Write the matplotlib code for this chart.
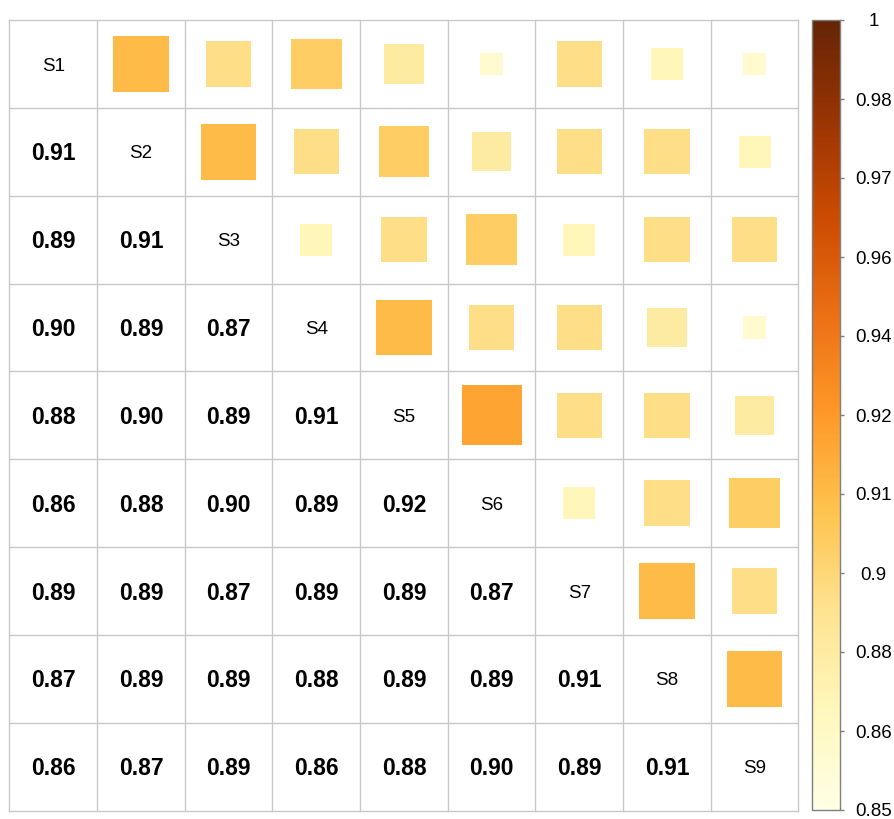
import numpy as np
import matplotlib
matplotlib.use('Agg')
import matplotlib.pyplot as plt
from matplotlib.patches import Rectangle
from matplotlib.colors import Normalize
from matplotlib.cm import ScalarMappable

plt.rcParams['font.family'] = ['Liberation Sans', 'DejaVu Sans']

# Similarity matrix (lower triangle, row i holds values vs S1..S(i-1))
labels = ['S1', 'S2', 'S3', 'S4', 'S5', 'S6', 'S7', 'S8', 'S9']
lower = [
    [],
    [0.91],
    [0.89, 0.91],
    [0.90, 0.89, 0.87],
    [0.88, 0.90, 0.89, 0.91],
    [0.86, 0.88, 0.90, 0.89, 0.92],
    [0.89, 0.89, 0.87, 0.89, 0.89, 0.87],
    [0.87, 0.89, 0.89, 0.88, 0.89, 0.89, 0.91],
    [0.86, 0.87, 0.89, 0.86, 0.88, 0.90, 0.89, 0.91],
]
col_lim = (0.85, 1.0)
cbar_ticks = np.linspace(col_lim[0], col_lim[1], 11)
cbar_labels = ['0.85', '0.86', '0.88', '0.9', '0.91', '0.92',
               '0.94', '0.96', '0.97', '0.98', '1']

n = len(labels)
M = np.eye(n)
for i, row in enumerate(lower):
    for j, v in enumerate(row):
        M[i, j] = v
        M[j, i] = v

W, H = 895, 819
fig = plt.figure(figsize=(W / 100, H / 100), dpi=100)

# main grid
gx0, gx1, gy0, gy1 = 9.5, 798.5, 20, 810.5
ax = fig.add_axes([gx0 / W, 1 - gy1 / H, (gx1 - gx0) / W, (gy1 - gy0) / H])
ax.set_xlim(0, n)
ax.set_ylim(n, 0)
ax.axis('off')

cmap = plt.get_cmap('YlOrBr')
norm = Normalize(*col_lim)
grid_c = '#c8c8c8'

for k in range(n + 1):
    ax.plot([k, k], [0, n], color=grid_c, lw=1.0, zorder=1, clip_on=False)
    ax.plot([0, n], [k, k], color=grid_c, lw=1.0, zorder=1, clip_on=False)

dy = 0.025  # text sits a touch below the cell centre
for i in range(n):
    for j in range(n):
        cx, cy = j + 0.5, i + 0.5
        if i == j:
            ax.text(cx, cy + dy, labels[i], ha='center', va='center',
                    fontsize=13.5, color='black')
        elif i > j:
            ax.text(cx, cy + dy, f'{M[i, j]:.2f}', ha='center', va='center',
                    fontsize=16.5, fontweight='bold', color='black')
        else:
            v = M[i, j]
            s = np.sqrt(max(v - col_lim[0], 0) / (col_lim[1] - col_lim[0]))
            ax.add_patch(Rectangle((cx - s / 2, cy - s / 2), s, s,
                                   facecolor=cmap(norm(v)), edgecolor='none',
                                   zorder=2))

# colour legend
bx0, bx1, by0, by1 = 812, 840, 20, 810
cax = fig.add_axes([bx0 / W, 1 - by1 / H, (bx1 - bx0) / W, (by1 - by0) / H])
cb = fig.colorbar(ScalarMappable(norm=norm, cmap=cmap), cax=cax)
cb.outline.set_edgecolor('#7f7f7f')
cb.outline.set_linewidth(1.0)
cb.set_ticks(cbar_ticks)
cb.set_ticklabels(cbar_labels)
cax.tick_params(axis='y', length=3, width=1, color='#7f7f7f', pad=21,
                labelsize=13.5)
for t in cax.get_yticklabels():
    t.set_horizontalalignment('center')

fig.savefig('out.png', dpi=100)
